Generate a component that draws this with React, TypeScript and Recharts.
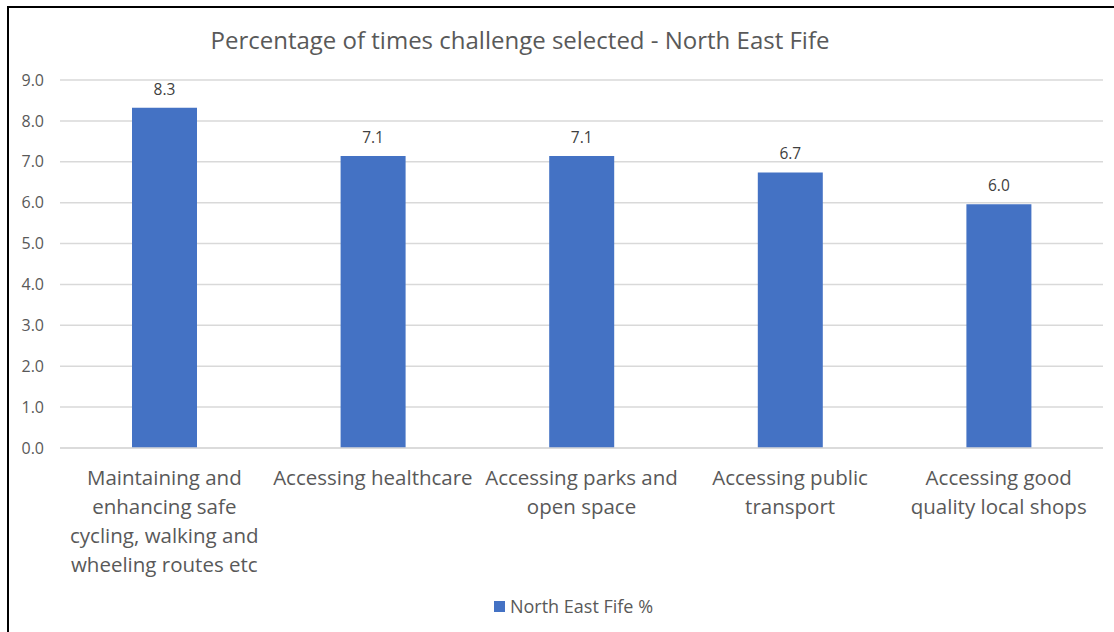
import React from 'react';
import { BarChart, Bar, XAxis, YAxis, CartesianGrid, LabelList, Legend } from 'recharts';

const categories = [
  'Maintaining and\nenhancing safe\ncycling, walking and\nwheeling routes etc',
  'Accessing healthcare',
  'Accessing parks and\nopen space',
  'Accessing public\ntransport',
  'Accessing good\nquality local shops',
];
const values = [8.32, 7.14, 7.14, 6.74, 5.96];
const yTicks = [0, 1, 2, 3, 4, 5, 6, 7, 8, 9];
const seriesName = 'North East Fife %';
const title = 'Percentage of times challenge selected - North East Fife';

const data = categories.map((c, i) => ({ name: c, value: values[i] }));

const FONT = '"Open Sans", "DejaVu Sans", sans-serif';
const TEXT = '#595959';
const BLUE = '#4472C4';

const CatTick = (props: any) => {
  const { x, y, payload } = props;
  const lines = String(payload.value).split('\n');
  return (
    <g transform={`translate(${x},${y})`}>
      {lines.map((l, i) => (
        <text key={i} x={0} y={24 + i * 29} textAnchor="middle" dominantBaseline="middle" fill={TEXT} fontSize={20.5} fontFamily={FONT}>
          {l}
        </text>
      ))}
    </g>
  );
};

const LegendContent = () => (
  <div style={{ display: 'flex', justifyContent: 'center', alignItems: 'center', paddingTop: 2, paddingLeft: 44, fontFamily: FONT, fontSize: 18, color: TEXT }}>
    <span style={{ display: 'inline-block', width: 11, height: 11, background: BLUE, marginRight: 5 }} />
    <span>{seriesName}</span>
  </div>
);

export default function App() {
  return (
    <div style={{ position: 'absolute', left: 0, top: 0, width: 1114, height: 632, background: '#fff', overflow: 'hidden' }}>
      <div style={{ position: 'absolute', left: 7, top: 6, width: 1107, height: 626, borderLeft: '2px solid #000', borderTop: '2px solid #000', boxSizing: 'border-box' }} />
      <div style={{ position: 'absolute', left: 0, width: 1040, top: 24, textAlign: 'center', fontFamily: FONT, fontSize: 24, color: TEXT, lineHeight: '32px' }}>
        {title}
      </div>
      <div style={{ position: 'absolute', left: 0, top: 0 }}>
        <BarChart width={1114} height={632} data={data} margin={{ top: 80, right: 11, bottom: 0, left: 0 }}>
          <CartesianGrid vertical={false} stroke="#D9D9D9" strokeWidth={1.5} />
          <XAxis dataKey="name" interval={0} tickLine={false} axisLine={{ stroke: '#D9D9D9', strokeWidth: 1.5 }} tick={<CatTick />} height={144} />
          <YAxis domain={[0, 9]} ticks={yTicks} tickFormatter={(v: number) => v.toFixed(1)} width={60} tickLine={false} axisLine={false} tickSize={0} tickMargin={16} tick={{ fill: TEXT, fontSize: 16, fontFamily: FONT }} />
          <Legend verticalAlign="bottom" height={40} content={<LegendContent />} />
          <Bar dataKey="value" name={seriesName} fill={BLUE} barSize={65} isAnimationActive={false}>
            <LabelList dataKey="value" position="top" offset={13} formatter={(v: any) => Number(v).toFixed(1)} fill="#404040" fontSize={15.5} fontFamily={FONT} />
          </Bar>
        </BarChart>
      </div>
    </div>
  );
}
